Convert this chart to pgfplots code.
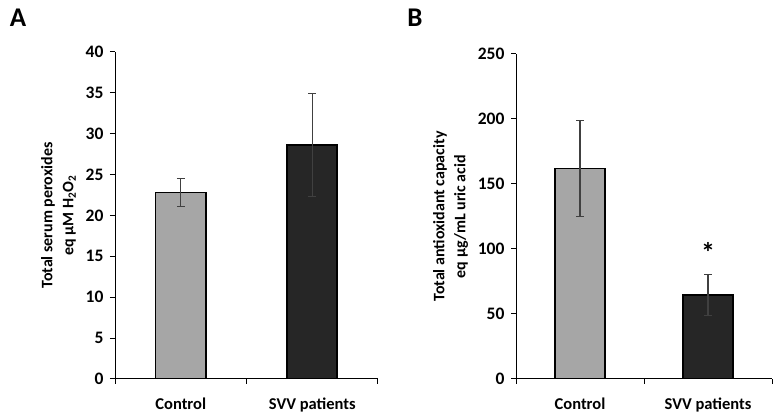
\documentclass[border=0pt]{standalone}
\usepackage{fontspec}
\setmainfont{Carlito}
\usepackage{pgfplots}
\pgfplotsset{compat=1.18}

\definecolor{ctrlgray}{HTML}{A6A6A6}
\definecolor{svvdark}{HTML}{262626}
\definecolor{errgray}{HTML}{404040}

\pgfplotsset{
  panel/.style={
    scale only axis,
    anchor=south west,
    axis lines*=left,
    xmin=0.5, xmax=2.5, ymin=0,
    xtick={0.5,1.5,2.5}, xticklabels={},
    extra x ticks={1,2},
    extra x tick labels={Control,SVV patients},
    extra x tick style={major tick length=0pt, tick style={draw=none},
      xticklabel style={yshift=-15pt}},
    tick align=outside,
    major tick length=5pt,
    axis line style={line width=1pt, black},
    tick style={line width=1pt, black},
    xticklabel style={font=\fontsize{16.5}{16.5}\selectfont\bfseries},
    yticklabel style={font=\fontsize{17.5}{17.5}\selectfont\bfseries, xshift=-3pt},
    /pgf/number format/assume math mode=true,
    ylabel style={font=\fontsize{16}{21}\selectfont\bfseries, align=center,
      yshift=3pt},
    ybar, bar width=50pt, bar shift=0pt,
  },
  errs/.style={
    error bars/.cd, y dir=both, y explicit,
    error bar style={line width=1.2pt, errgray},
    error mark options={rotate=90, mark size=4pt, line width=1.2pt, errgray},
  },
}

\begin{document}
\begin{tikzpicture}
\useasboundingbox (0,0) rectangle (780pt,417pt);

% panel A
\begin{axis}[panel, at={(115pt,38pt)}, width=263pt, height=327pt,
  ymax=40, ytick={0,5,...,40},
  ylabel={Total serum peroxides\\eq µM H\textsubscript{2}O\textsubscript{2}}]
\addplot[fill=ctrlgray, draw=black, line width=1.5pt, errs]
  coordinates {(1,22.8) +- (0,1.7)};
\addplot[fill=svvdark, draw=black, line width=1.5pt, errs]
  coordinates {(2,28.6) +- (0,6.3)};
\end{axis}

% panel B
\begin{axis}[panel, at={(516pt,38pt)}, width=256pt, height=325pt,
  ymax=250, ytick={0,50,...,250},
  ylabel={Total antioxidant capacity\\eq µg/mL uric acid}]
\addplot[fill=ctrlgray, draw=black, line width=1.5pt, errs]
  coordinates {(1,162) +- (0,37)};
\addplot[fill=svvdark, draw=black, line width=1.5pt, errs]
  coordinates {(2,64.6) +- (0,15.7)};
\node[font=\fontsize{28}{28}\selectfont\bfseries, inner sep=0pt] at (axis cs:2,97) {*};
\end{axis}

\node[font=\fontsize{27}{27}\selectfont\bfseries] at (18pt,399pt) {A};
\node[font=\fontsize{27}{27}\selectfont\bfseries] at (415pt,399pt) {B};
\end{tikzpicture}
\end{document}
